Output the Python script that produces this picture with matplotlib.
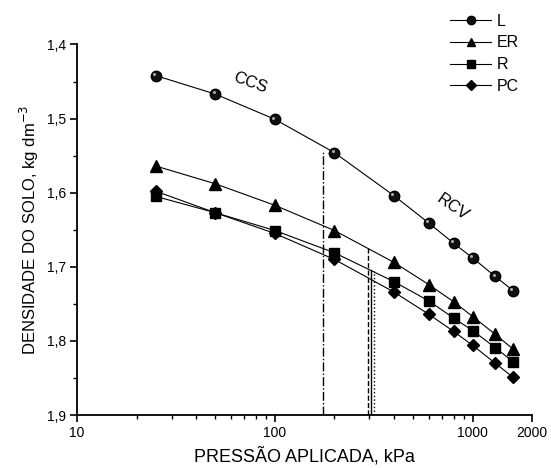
import matplotlib
matplotlib.use("Agg")
import matplotlib.pyplot as plt
import matplotlib.transforms as mtransforms
from matplotlib.ticker import FixedLocator, NullFormatter, FixedFormatter

plt.rcParams['font.family'] = ['Liberation Sans', 'DejaVu Sans']

pressure = [25, 50, 100, 200, 400, 600, 800, 1000, 1300, 1600]
L = [1.442, 1.467, 1.501, 1.546, 1.604, 1.641, 1.668, 1.688, 1.713, 1.732]
ER = [1.564, 1.588, 1.617, 1.651, 1.694, 1.724, 1.747, 1.767, 1.791, 1.811]
R = [1.605, 1.627, 1.651, 1.681, 1.720, 1.746, 1.769, 1.786, 1.809, 1.828]
PC = [1.598, 1.627, 1.655, 1.690, 1.734, 1.764, 1.787, 1.806, 1.830, 1.849]

# vertical reference lines: (x, top y, style)
vlines_x = [174, 297, 305, 316]
vlines_top = [1.543, 1.675, 1.704, 1.705]
vlines_style = ['-.', '--', '-', ':']

xticks = [10, 100, 1000, 2000]
xticklabels = ['10', '100', '1000', '2000']
yticks = [1.4, 1.5, 1.6, 1.7, 1.8, 1.9]
yticklabels = ['1,4', '1,5', '1,6', '1,7', '1,8', '1,9']

fig = plt.figure(figsize=(5.51, 4.68), dpi=100)
ax = fig.add_axes([0.140, 0.113, 0.826, 0.792])

ax.set_xscale('log')
ax.set_xlim(10, 2000)
ax.set_ylim(1.9, 1.4)

for xv, yt, ls in zip(vlines_x, vlines_top, vlines_style):
    ax.plot([xv, xv], [1.9, yt], color='black', lw=1.0, ls=ls)

lw = 0.8
ax.plot(pressure, L, color='black', lw=lw, marker='o', ms=7.5,
        mfc='#111111', mec='black', label='L', zorder=3)
hl = mtransforms.offset_copy(ax.transData, fig=fig, x=-1.2, y=1.2, units='points')
ax.plot(pressure, L, ls='none', marker='o', ms=2.2, mfc='#aaaaaa', mec='none',
        transform=hl, zorder=4)
ax.plot(pressure, ER, color='black', lw=lw, marker='^', ms=8,
        mfc='black', mec='black', label='ER', zorder=3)
ax.plot(pressure, R, color='black', lw=lw, marker='s', ms=6.5,
        mfc='black', mec='black', label='R', zorder=3)
ax.plot(pressure, PC, color='black', lw=lw, marker='D', ms=6.5,
        mfc='black', mec='black', label='PC', zorder=3)

ax.text(75, 1.452, 'CCS', rotation=-20, ha='center', va='center', fontsize=12)
ax.text(790, 1.620, 'RCV', rotation=-35, ha='center', va='center', fontsize=12)

ax.xaxis.set_major_locator(FixedLocator(xticks))
ax.xaxis.set_major_formatter(FixedFormatter(xticklabels))
minor = [m * d for d in (10, 100) for m in range(2, 10)]
ax.xaxis.set_minor_locator(FixedLocator(minor))
ax.xaxis.set_minor_formatter(NullFormatter())
ax.yaxis.set_major_locator(FixedLocator(yticks))
ax.yaxis.set_major_formatter(FixedFormatter(yticklabels))
ax.yaxis.set_minor_locator(FixedLocator([1.45, 1.55, 1.65, 1.75, 1.85]))

ax.tick_params(which='major', direction='out', length=5, width=1.2, labelsize=10, pad=3)
ax.tick_params(which='minor', direction='out', length=3, width=1.0)

for s in ['top', 'right']:
    ax.spines[s].set_visible(False)
for s in ['left', 'bottom']:
    ax.spines[s].set_linewidth(1.3)

ax.set_xlabel('PRESSÃO APLICADA, kPa', fontsize=13, labelpad=5)
ax.set_ylabel('DENSIDADE DO SOLO, kg dm$^{-3}$', fontsize=12, labelpad=4)

leg = ax.legend(loc='upper left', bbox_to_anchor=(0.805, 1.10), frameon=False,
                fontsize=11.5, handlelength=2.6, handletextpad=0.35,
                labelspacing=0.42, borderaxespad=0, markerscale=0.8)

fig.savefig('out.png', dpi=100)
